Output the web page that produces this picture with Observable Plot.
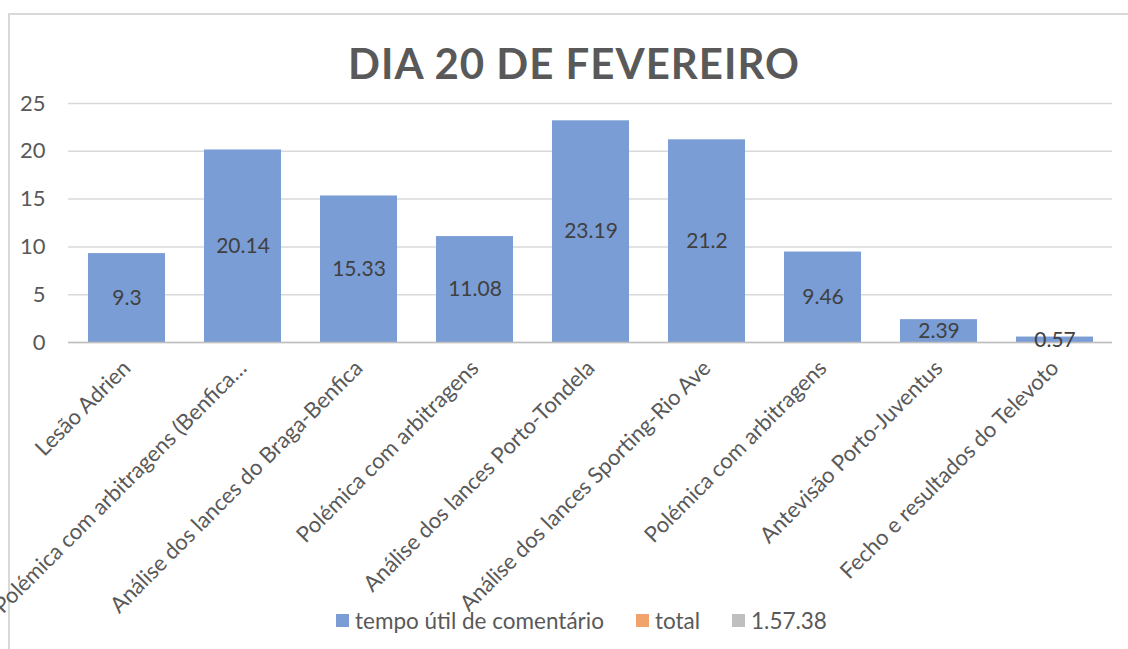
<!DOCTYPE html>
<html><head><meta charset="utf-8">
<script src="https://cdn.jsdelivr.net/npm/d3@7"></script>
<script src="https://cdn.jsdelivr.net/npm/@observablehq/plot@0.6"></script>
<style>
body{margin:0;background:#fff;font-family:Lato, sans-serif;}
#wrap{position:relative;width:1128px;height:649px;overflow:hidden;background:#fff}
#frame{position:absolute;left:8px;top:13px;width:1140px;height:660px;border-top:2px solid #d9d9d9;border-left:2px solid #d9d9d9;}
#title{position:absolute;top:38px;left:0;width:1148px;text-align:center;font-size:42px;font-weight:bold;color:#595959;letter-spacing:1px;line-height:50px}
#chart{position:absolute;top:90px;left:0}
#chart svg{overflow:visible}
#legend{position:absolute;top:607px;left:336px;display:flex;align-items:center;font-size:22.5px;color:#595959;white-space:nowrap}
.sw{display:inline-block;width:13px;height:13px;margin-right:6px}
.it{display:flex;align-items:center;margin-right:32px}
</style></head>
<body><div id="wrap"><div id="frame"></div><div id="title">DIA 20 DE FEVEREIRO</div><div id="chart"></div><div id="legend"></div></div>
<script>
const categories = ["Lesão Adrien","Polémica com arbitragens (Benfica…","Análise dos lances do Braga-Benfica","Polémica com arbitragens","Análise dos lances Porto-Tondela","Análise dos lances Sporting-Rio Ave","Polémica com arbitragens","Antevisão Porto-Juventus","Fecho e resultados do Televoto"];
const values = [9.3, 20.14, 15.33, 11.08, 23.19, 21.2, 9.46, 2.39, 0.57];
const yTicks = [0, 5, 10, 15, 20, 25];
const legendNames = ["tempo útil de comentário", "total", "1.57.38"];
const legendColors = ["#7b9dd5", "#f0a46c", "#bfbfbf"];

const data = categories.map((c, i) => ({i, c, v: values[i]}));

const chart = Plot.plot({
  width: 1128, height: 530,
  marginTop: 13, marginLeft: 68, marginRight: 16, marginBottom: 278,
  style: {fontFamily: "Lato, sans-serif", fontSize: "22px", color: "#595959", background: "transparent"},
  x: {domain: d3.range(categories.length), paddingInner: 0.34, paddingOuter: 0.17, label: null},
  y: {domain: [0, 25], label: null},
  marks: [
    Plot.gridY(yTicks, {stroke: "#d9d9d9", strokeOpacity: 1, strokeWidth: 1.5}),
    Plot.axisY(yTicks, {tickSize: 0, tickPadding: 23, fontSize: 22, fill: "#595959", label: null}),
    Plot.barY(data, {x: "i", y: "v", fill: legendColors[0]}),
    Plot.ruleY([0], {stroke: "#bfbfbf", strokeWidth: 1.5}),
    Plot.axisX({tickSize: 0, tickRotate: -45, tickPadding: 22, tickFormat: i => categories[i], fontSize: 22, fill: "#595959", label: null}),
    Plot.text(data, {x: "i", y: d => d.v / 2, text: d => String(d.v), fill: "#404040", fontSize: 21})
  ]
});
document.getElementById("chart").appendChild(chart);

const lg = document.getElementById("legend");
legendNames.forEach((n, k) => {
  const it = document.createElement("div"); it.className = "it";
  const sw = document.createElement("span"); sw.className = "sw"; sw.style.background = legendColors[k];
  it.appendChild(sw); it.appendChild(document.createTextNode(n));
  lg.appendChild(it);
});
</script></body></html>
